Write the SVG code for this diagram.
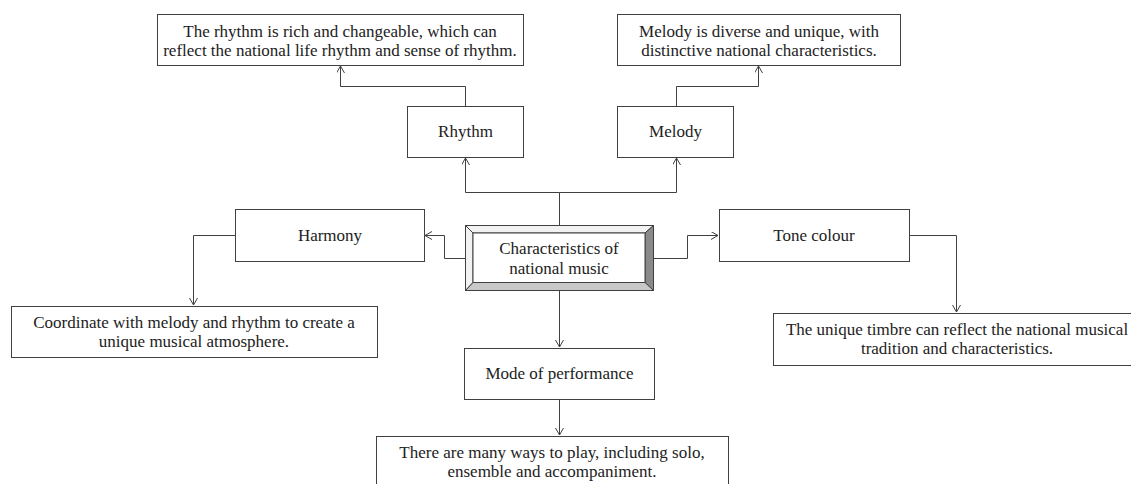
<svg xmlns="http://www.w3.org/2000/svg" width="1131" height="484" viewBox="0 0 1131 484">
<style>
.box{fill:#fff;stroke:#404040;stroke-width:1}
.t{font-family:"Liberation Serif","Times New Roman",serif;font-size:17px;fill:#222;text-anchor:middle}
.c{fill:none;stroke:#404040;stroke-width:1}
</style>
<defs>
<marker id="ah" markerUnits="userSpaceOnUse" markerWidth="10" markerHeight="10" refX="7" refY="4" orient="auto">
<path d="M0,0 L7,4 L0,8" fill="none" stroke="#404040" stroke-width="1"/>
</marker>
</defs>
<rect width="1131" height="484" fill="#fff"/>
<g id="connectors">
<path class="c" d="M559.5,225 V192.5 H465.5 V158" marker-end="url(#ah)"/>
<path class="c" d="M559.5,192.5 H676.5 V158" marker-end="url(#ah)"/>
<path class="c" d="M465.5,106 V86.5 H340.5 V66" marker-end="url(#ah)"/>
<path class="c" d="M676.5,106 V86.5 H758.5 V66" marker-end="url(#ah)"/>
<path class="c" d="M466,258.5 H444.5 V235.5 H425" marker-end="url(#ah)"/>
<path class="c" d="M653,258.5 H687.5 V235.5 H718" marker-end="url(#ah)"/>
<path class="c" d="M235,235.5 H193.5 V305" marker-end="url(#ah)"/>
<path class="c" d="M909,235.5 H956.5 V312" marker-end="url(#ah)"/>
<path class="c" d="M559.5,291 V347" marker-end="url(#ah)"/>
<path class="c" d="M559.5,399 V435" marker-end="url(#ah)"/>
</g>
<g id="rhythm-desc">
<rect class="box" x="157.5" y="14.5" width="366" height="51"/>
<text class="t" x="340" y="37">The rhythm is rich and changeable, which can</text>
<text class="t" x="340" y="56">reflect the national life rhythm and sense of rhythm.</text>
</g>
<g id="melody-desc">
<rect class="box" x="617.5" y="14.5" width="283" height="51"/>
<text class="t" x="759" y="37">Melody is diverse and unique, with</text>
<text class="t" x="759" y="56">distinctive national characteristics.</text>
</g>
<g id="rhythm">
<rect class="box" x="407.5" y="106.5" width="116" height="51"/>
<text class="t" x="465.5" y="137">Rhythm</text>
</g>
<g id="melody">
<rect class="box" x="617.5" y="106.5" width="116" height="51"/>
<text class="t" x="675.5" y="137">Melody</text>
</g>
<g id="harmony">
<rect class="box" x="235.5" y="209.5" width="189" height="52"/>
<text class="t" x="330" y="241">Harmony</text>
</g>
<g id="tone">
<rect class="box" x="719.5" y="209.5" width="190" height="52"/>
<text class="t" x="814" y="241">Tone colour</text>
</g>
<g id="center">
<rect x="465.5" y="225.5" width="188" height="65" fill="#fff" stroke="#404040"/>
<polygon points="465.5,225.5 653.5,225.5 645,233 473,233" fill="#f2f2f2" stroke="#404040" stroke-width="1"/>
<polygon points="465.5,225.5 473,233 473,282.5 465.5,290.5" fill="#f2f2f2" stroke="#404040" stroke-width="1"/>
<polygon points="653.5,225.5 653.5,290.5 645,282.5 645,233" fill="#8a8a8a" stroke="#404040" stroke-width="1"/>
<polygon points="465.5,290.5 653.5,290.5 645,282.5 473,282.5" fill="#c8c8c8" stroke="#404040" stroke-width="1"/>
<rect x="473" y="233" width="172" height="49.5" fill="#fff" stroke="#404040"/>
<text class="t" x="559" y="254">Characteristics of</text>
<text class="t" x="559" y="274">national music</text>
</g>
<g id="harmony-desc">
<rect class="box" x="11.5" y="306.5" width="366" height="51"/>
<text class="t" x="194" y="328">Coordinate with melody and rhythm to create a</text>
<text class="t" x="194" y="347">unique musical atmosphere.</text>
</g>
<g id="tone-desc">
<rect class="box" x="773.5" y="313.5" width="370" height="52"/>
<text class="t" x="957" y="335">The unique timbre can reflect the national musical</text>
<text class="t" x="957" y="354">tradition and characteristics.</text>
</g>
<g id="mode">
<rect class="box" x="464.5" y="348.5" width="190" height="51"/>
<text class="t" x="559.5" y="379">Mode of performance</text>
</g>
<g id="mode-desc">
<rect class="box" x="376.5" y="436.5" width="352" height="60"/>
<text class="t" x="552" y="458">There are many ways to play, including solo,</text>
<text class="t" x="552" y="477">ensemble and accompaniment.</text>
</g>
</svg>
